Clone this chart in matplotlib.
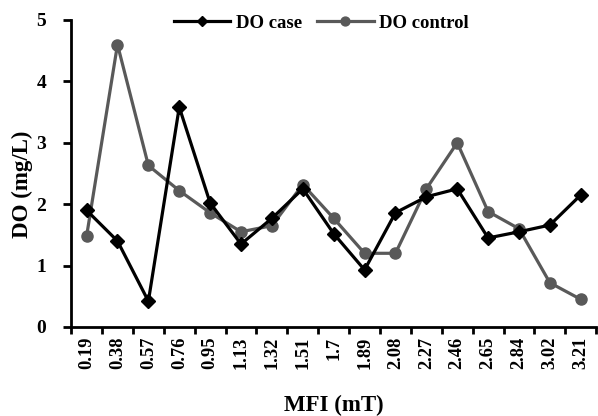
import matplotlib
matplotlib.use("Agg")
import matplotlib.pyplot as plt
import numpy as np

categories = ["0.19", "0.38", "0.57", "0.76", "0.95", "1.13", "1.32", "1.51", "1.7",
              "1.89", "2.08", "2.27", "2.46", "2.65", "2.84", "3.02", "3.21"]
do_case = [1.90, 1.40, 0.42, 3.58, 2.02, 1.35, 1.77, 2.25, 1.52, 0.93, 1.86, 2.12, 2.25,
           1.45, 1.55, 1.66, 2.15]
do_control = [1.48, 4.60, 2.63, 2.22, 1.86, 1.55, 1.65, 2.32, 1.77, 1.20, 1.20, 2.25, 3.00,
              1.88, 1.60, 0.72, 0.45]

plt.rcParams['font.family'] = ['Liberation Serif', 'DejaVu Serif']
plt.rcParams['font.weight'] = 'bold'

fig = plt.figure(figsize=(5.98, 4.16), dpi=100)
ax = fig.add_axes([0.119, 0.214, 0.878, 0.738])

x = np.arange(len(categories))
ax.plot(x, do_case, color='black', lw=2.3, marker='D', ms=7, label='DO case', zorder=3)
ax.plot(x, do_control, color='#595959', lw=2.3, marker='o', ms=8, label='DO control', zorder=2)

ax.set_xlim(-0.5, len(categories) - 0.5)
ax.set_ylim(0, 5)
ax.set_yticks(range(0, 6))
ax.set_yticklabels([str(v) for v in range(0, 6)], fontsize=14, fontweight='bold')

ax.set_xticks(np.arange(-0.5, len(categories)), minor=False)
ax.set_xticklabels([])
ax.set_xticks(x, minor=True)
ax.set_xticklabels(categories, minor=True, rotation=90, fontsize=13.3, fontweight='bold')
ax.tick_params(axis='x', which='major', length=5, width=2, direction='out')
ax.tick_params(axis='x', which='minor', length=0, pad=7)
ax.tick_params(axis='y', length=6, width=2, direction='out', pad=12)

for s in ['top', 'right']:
    ax.spines[s].set_visible(False)
for s in ['left', 'bottom']:
    ax.spines[s].set_linewidth(2)

ax.set_ylabel('DO (mg/L)', fontsize=16.5, fontweight='bold', va='center')
ax.yaxis.set_label_coords(-0.093, 0.465)
ax.set_xlabel('MFI (mT)', fontsize=16.5, fontweight='bold', va='center')
ax.xaxis.set_label_coords(0.5, -0.257)

leg = ax.legend(loc='center left', bbox_to_anchor=(0.196, 0.99), ncol=2, frameon=False,
                prop={'weight': 'bold', 'size': 13.5}, handlelength=3.0, columnspacing=0.83,
                handletextpad=0.28, markerscale=0.8, borderaxespad=0, borderpad=0)

fig.savefig('out.png', dpi=100)
